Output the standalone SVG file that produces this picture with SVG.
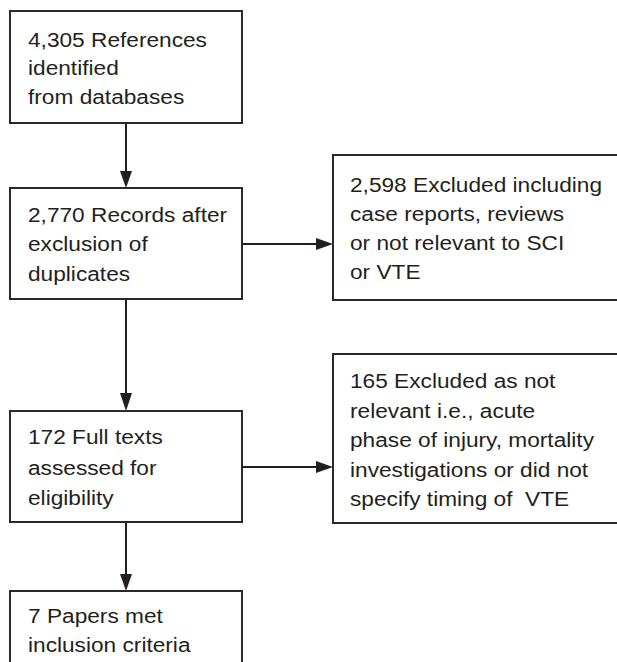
<svg xmlns="http://www.w3.org/2000/svg" width="617" height="662" viewBox="0 0 617 662">
<style>
.box{fill:#fff;stroke:#2a2a2a;stroke-width:2}
.t{font-family:"Liberation Sans",Arial,sans-serif;font-size:21px;fill:#231f20}
.ln{stroke:#231f20;stroke-width:2;fill:none}
.ah{fill:#231f20}
</style>
<rect width="617" height="662" fill="#fff"/>
<g id="n1">
<rect class="box" x="10" y="11" width="232" height="112"/>
<g transform="translate(28,0) scale(1.08,1)"><text class="t"><tspan x="0" y="47">4,305 References</tspan><tspan x="0" y="75.5">identified</tspan><tspan x="0" y="104">from databases</tspan></text></g>
</g>
<g id="n2">
<rect class="box" x="10" y="188" width="232" height="111"/>
<g transform="translate(28,0) scale(1.08,1)"><text class="t"><tspan x="0" y="222">2,770 Records after</tspan><tspan x="0" y="251">exclusion of</tspan><tspan x="0" y="281">duplicates</tspan></text></g>
</g>
<g id="n3">
<rect class="box" x="333" y="155" width="290" height="145"/>
<g transform="translate(350,0) scale(1.08,1)"><text class="t"><tspan x="0" y="192">2,598 Excluded including</tspan><tspan x="0" y="221">case reports, reviews</tspan><tspan x="0" y="250">or not relevant to SCI</tspan><tspan x="0" y="279">or VTE</tspan></text></g>
</g>
<g id="n4">
<rect class="box" x="10" y="411" width="232" height="111"/>
<g transform="translate(28,0) scale(1.08,1)"><text class="t"><tspan x="0" y="444">172 Full texts</tspan><tspan x="0" y="475">assessed for</tspan><tspan x="0" y="505">eligibility</tspan></text></g>
</g>
<g id="n5">
<rect class="box" x="333" y="354" width="290" height="169"/>
<g transform="translate(350,0) scale(1.08,1)"><text class="t"><tspan x="0" y="388">165 Excluded as not</tspan><tspan x="0" y="418">relevant i.e., acute</tspan><tspan x="0" y="447">phase of injury, mortality</tspan><tspan x="0" y="477">investigations or did not</tspan><tspan x="0" y="506">specify timing of&#160; VTE</tspan></text></g>
</g>
<g id="n6">
<rect class="box" x="10" y="591" width="232" height="80"/>
<g transform="translate(28,0) scale(1.08,1)"><text class="t"><tspan x="0" y="623">7 Papers met</tspan><tspan x="0" y="652">inclusion criteria</tspan></text></g>
</g>
<g id="connectors">
<line class="ln" x1="126" y1="123" x2="126" y2="172"/>
<polygon class="ah" points="120,171 132,171 126,188"/>
<line class="ln" x1="126" y1="299" x2="126" y2="394"/>
<polygon class="ah" points="120,393 132,393 126,411"/>
<line class="ln" x1="126" y1="522" x2="126" y2="575"/>
<polygon class="ah" points="120,574 132,574 126,591"/>
<line class="ln" x1="242" y1="244" x2="318" y2="244"/>
<polygon class="ah" points="316,238 316,250 333,244"/>
<line class="ln" x1="242" y1="467" x2="318" y2="467"/>
<polygon class="ah" points="316,461 316,473 333,467"/>
</g>
</svg>
